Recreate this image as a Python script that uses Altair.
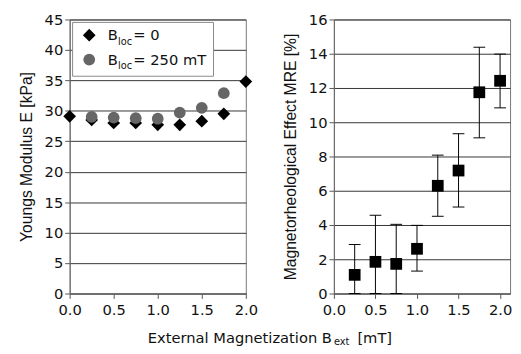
import altair as alt
import pandas as pd

# ---------------- data ----------------
b_ext = [0.0, 0.25, 0.5, 0.75, 1.0, 1.25, 1.5, 1.75, 2.0]
e_bloc0 = [29.1, 28.5, 28.0, 28.0, 27.7, 27.7, 28.3, 29.5, 34.8]
b_ext_250 = [0.25, 0.5, 0.75, 1.0, 1.25, 1.5, 1.75]
e_bloc250 = [29.0, 28.9, 28.8, 28.7, 29.7, 30.5, 32.9]
b_ext_mre = [0.25, 0.5, 0.75, 1.0, 1.25, 1.5, 1.75, 2.0]
mre = [1.09, 1.85, 1.73, 2.61, 6.29, 7.18, 11.75, 12.42]
mre_upper = [2.86, 4.57, 4.04, 3.98, 8.08, 9.33, 14.38, 13.98]
mre_lower = [0.0, 0.0, 0.0, 1.31, 4.51, 5.05, 9.09, 10.84]
x_ticks = [0.0, 0.5, 1.0, 1.5, 2.0]
left_y_ticks = [0, 5, 10, 15, 20, 25, 30, 35, 40, 45]
right_y_ticks = [0, 2, 4, 6, 8, 10, 12, 14, 16]
legend_main = "B"
legend_sub = "loc"
legend_labels = ["= 0", "= 250 mT"]
left_title = "Youngs Modulus E [kPa]"
right_title = "Magnetorheological Effect MRE [%]"
xtitle_main = "External Magnetization B"
xtitle_sub = "ext"
xtitle_end = "[mT]"

LABEL_FONT = "DejaVu Sans"
TITLE_FONT = "Liberation Sans"
W, H = 180, 280
INK = "#111111"

df0 = pd.DataFrame({"x": b_ext, "y": e_bloc0})
df250 = pd.DataFrame({"x": b_ext_250, "y": e_bloc250})
dfm = pd.DataFrame({"x": b_ext_mre, "y": mre, "hi": mre_upper, "lo": mre_lower})
one = pd.DataFrame({"k": [0]})


def x_enc(domain_max):
    return alt.X(
        "x:Q",
        scale=alt.Scale(domain=[0, domain_max], nice=False, zero=False),
        axis=alt.Axis(values=x_ticks, format=".1f", title=None, grid=False,
                      labelPadding=4, labelFlush=False),
    )


# ---------------- left panel ----------------
left_axis = alt.Axis(values=left_y_ticks, title=left_title, grid=True, titlePadding=10)
left_y = alt.Y("y:Q", scale=alt.Scale(domain=[0, 45], nice=False), axis=left_axis)

diamonds = alt.Chart(df0).mark_point(
    shape="diamond", filled=True, size=169, color="black", opacity=1
).encode(x=x_enc(2.0), y=left_y)

circles = alt.Chart(df250).mark_point(
    shape="circle", filled=True, size=144, color="#666666", opacity=1
).encode(x=x_enc(2.0), y=left_y)

leg_box = alt.Chart(one).mark_rect(fill="white", stroke="#888888", strokeWidth=1).encode(
    x=alt.value(3), x2=alt.value(147), y=alt.value(3), y2=alt.value(58)
)
leg_d = alt.Chart(one).mark_point(
    shape="diamond", filled=True, size=169, color="black", opacity=1
).encode(x=alt.value(20), y=alt.value(16))
leg_c = alt.Chart(one).mark_point(
    shape="circle", filled=True, size=144, color="#666666", opacity=1
).encode(x=alt.value(20), y=alt.value(41))


def txt(s, x, y, size=15, align="left"):
    return alt.Chart(one).mark_text(
        align=align, baseline="middle", font=LABEL_FONT, fontSize=size, color=INK
    ).encode(x=alt.value(x), y=alt.value(y), text=alt.value(s))


legend_layers = [
    leg_box, leg_d, leg_c,
    txt(legend_main, 39, 16), txt(legend_sub, 49.5, 23, 10), txt(legend_labels[0], 65, 16),
    txt(legend_main, 39, 41), txt(legend_sub, 49.5, 48, 10), txt(legend_labels[1], 65, 41),
]

left = alt.layer(diamonds, circles, *legend_layers).properties(width=W, height=H)

# ---------------- right panel ----------------
right_scale = alt.Scale(domain=[0, 16], nice=False)
right_axis = alt.Axis(values=right_y_ticks, title=right_title, grid=True, titlePadding=10)
xr = x_enc(2.12)

err = alt.Chart(dfm).mark_rule(color="black", strokeWidth=1).encode(
    x=xr, y=alt.Y("lo:Q", scale=right_scale, axis=right_axis), y2="hi:Q"
)
cap_hi = alt.Chart(dfm).mark_tick(orient="horizontal", size=12, thickness=1, color="black", opacity=1).encode(
    x=xr, y=alt.Y("hi:Q", scale=right_scale, axis=right_axis)
)
cap_lo = alt.Chart(dfm).mark_tick(orient="horizontal", size=12, thickness=1, color="black", opacity=1).encode(
    x=xr, y=alt.Y("lo:Q", scale=right_scale, axis=right_axis)
)
squares = alt.Chart(dfm).mark_square(size=144, color="black", opacity=1).encode(
    x=xr, y=alt.Y("y:Q", scale=right_scale, axis=right_axis)
)

right = alt.layer(err, cap_hi, cap_lo, squares).properties(width=W, height=H)

# ---------------- bottom title ----------------
P = 268
bottom = alt.layer(
    txt(xtitle_main, P, 9, 15, "right"),
    txt(xtitle_sub, P + 2, 13, 10),
    txt(xtitle_end, P + 26, 9, 15),
).properties(width=400, height=18, view=alt.ViewBackground(stroke=None))

top = alt.hconcat(left, right, spacing=24)

chart = alt.vconcat(top, bottom, spacing=12).properties(
    padding={"left": 10, "top": 0, "right": 0, "bottom": 0}
).configure_view(stroke="#777777", strokeWidth=1).configure_axis(
    labelFont=LABEL_FONT,
    labelFontSize=15,
    labelColor=INK,
    labelOverlap=False,
    titleFont=TITLE_FONT,
    titleFontSize=16,
    titleFontWeight="normal",
    titleColor=INK,
    domainColor="#666666",
    tickColor="#555555",
    tickSize=5,
    labelPadding=2,
    gridColor="#333333",
    gridOpacity=1,
).configure_axisX(grid=False)

chart.save("out.html", embed_options={"renderer": "svg", "actions": False})
